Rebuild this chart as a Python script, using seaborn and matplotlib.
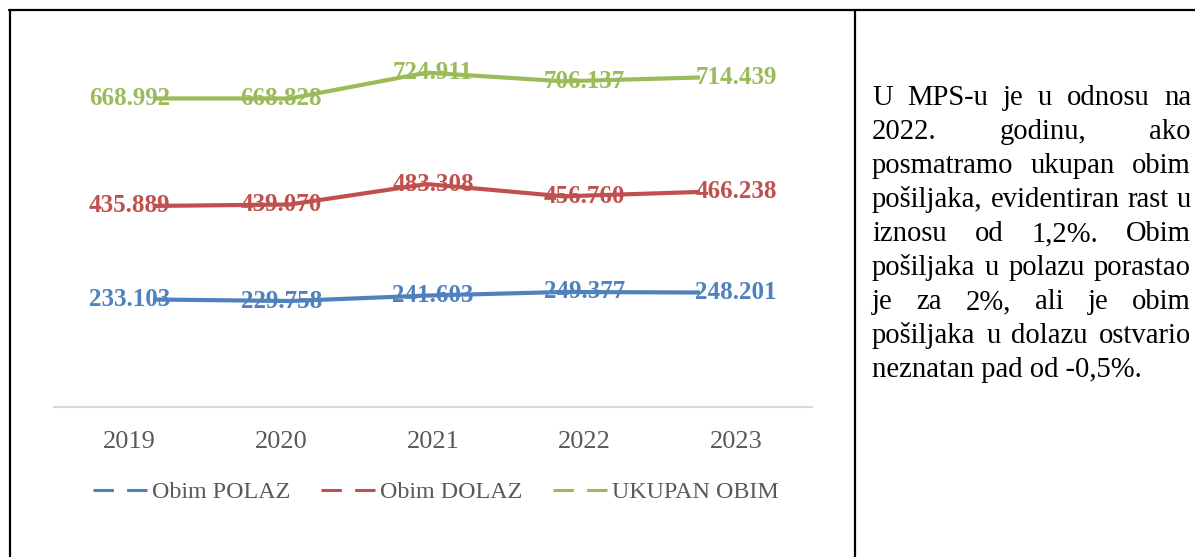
import matplotlib
matplotlib.use("Agg")
import matplotlib.pyplot as plt
from matplotlib.lines import Line2D
import seaborn as sns
import pandas as pd

# Shipment volumes per year (thousands)
years = [2019, 2020, 2021, 2022, 2023]
polaz = [233.103, 229.758, 241.603, 249.377, 248.201]
dolaz = [435.889, 439.070, 483.308, 456.760, 466.238]
ukupno = [668.992, 668.828, 724.911, 706.137, 714.439]
series_names = ["Obim POLAZ", "Obim DOLAZ", "UKUPAN OBIM"]
series_colors = ["#4F81BD", "#C0504D", "#9BBB59"]

paragraph_lines = [
    "U MPS-u je u odnosu na",
    "2022. godinu, ako",
    "posmatramo ukupan obim",
    "pošiljaka, evidentiran rast u",
    "iznosu od 1,2%. Obim",
    "pošiljaka u polazu porastao",
    "je za 2%, ali je obim",
    "pošiljaka u dolazu ostvario",
    "neznatan pad od -0,5%.",
]

sns.set_style("white")
plt.rcParams["font.family"] = ["Liberation Serif", "DejaVu Serif"]

W, H = 1195, 557
fig = plt.figure(figsize=(W / 100, H / 100), dpi=100)
fig.patch.set_facecolor("white")

def fx(px):
    return px / W

def fy(py):
    return 1 - py / H

df = pd.DataFrame({
    "year": years * 3,
    "value": polaz + dolaz + ukupno,
    "series": sum([[n] * len(years) for n in series_names], []),
})

# Category axis with labels and value labels
ax = fig.add_axes([fx(54), fy(407), fx(812) - fx(54), fy(38) - fy(407)])
# Overlay axes carrying the line marks
ax2 = fig.add_axes([fx(84.6), fy(407), fx(768.4) - fx(84.6), fy(38) - fy(407)])

sns.lineplot(data=df, x="year", y="value", hue="series", hue_order=series_names,
             palette=series_colors, linewidth=3.0, ax=ax2, legend=False,
             solid_capstyle="butt")
for a in (ax, ax2):
    a.set_xlim(2018.5, 2023.5)
    a.set_ylim(0, 800)
ax2.axis("off")
ax2.set_zorder(1)
ax.set_zorder(2)
ax.patch.set_alpha(0)

for vals, col in zip([polaz, dolaz, ukupno], series_colors):
    for yr, v in zip(years, vals):
        ax.text(yr, v, f"{v:.3f}", ha="center", va="center", color=col,
                fontsize=18, fontweight="bold")

for s in ["top", "left", "right"]:
    ax.spines[s].set_visible(False)
ax.spines["bottom"].set_color("#D9D9D9")
ax.spines["bottom"].set_linewidth(1.5)
ax.set_yticks([])
ax.set_xticks(years)
ax.set_xticklabels([str(y) for y in years], fontsize=19, color="#595959")
ax.tick_params(axis="x", length=0, pad=17)
ax.set_xlabel("")
ax.set_ylabel("")

handles = [Line2D([0], [0], color=c, linewidth=2.2, linestyle=(0, (6.67, 4.33)))
           for c in series_colors]
ax.legend(handles, series_names, loc="center", bbox_to_anchor=(fx(436), fy(492)),
          bbox_transform=fig.transFigure, ncol=3, frameon=False, fontsize=17.3,
          handlelength=2.25, handletextpad=0.2, columnspacing=1.27,
          labelcolor="#595959")

# Table borders
for (x0, y0, x1, y1) in [(9, 10, W, 10), (10, 10, 10, H), (855, 10, 855, H)]:
    fig.add_artist(Line2D([fx(x0), fx(x1)], [fy(y0), fy(y1)], color="black",
                          linewidth=1.6, transform=fig.transFigure))

# Justified paragraph in the right cell
renderer = fig.canvas.get_renderer()
left, right = 872, 1191
base0, step = 105, 34
fs = 20.6
for i, line in enumerate(paragraph_lines):
    words = line.split(" ")
    yb = fy(base0 + i * step)
    if i == len(paragraph_lines) - 1:
        fig.text(fx(left), yb, line, fontsize=fs, color="black", va="baseline")
        continue
    texts = [fig.text(0, yb, w, fontsize=fs, color="black", va="baseline") for w in words]
    widths = [t.get_window_extent(renderer).width for t in texts]
    gap = (right - left - sum(widths)) / max(len(words) - 1, 1)
    x = left
    for t, w in zip(texts, widths):
        t.set_x(fx(x))
        x += w + gap

fig.savefig("out.png", dpi=100, facecolor="white")
